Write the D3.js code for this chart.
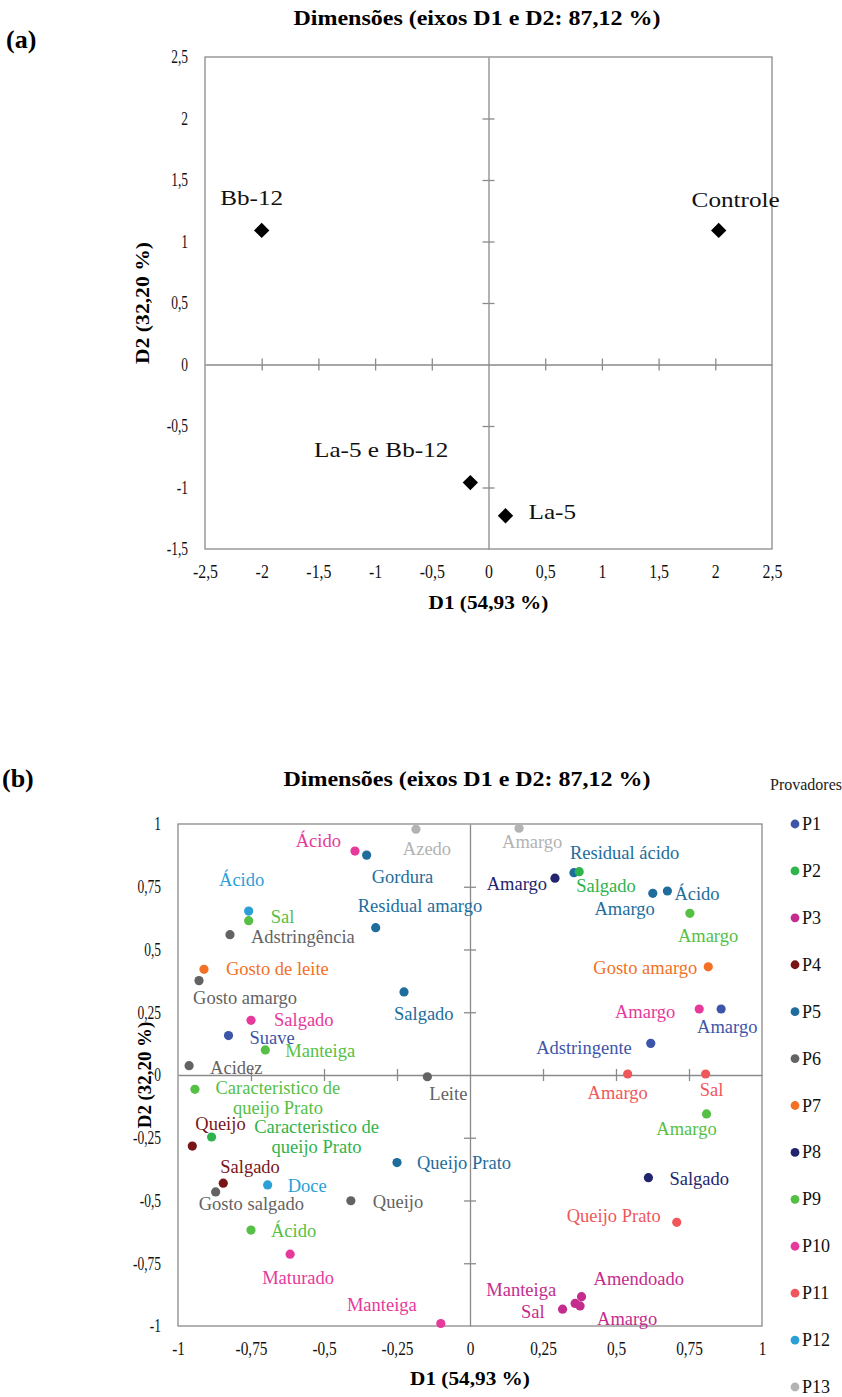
<!DOCTYPE html>
<html>
<head>
<meta charset="utf-8">
<script src="https://cdn.jsdelivr.net/npm/d3@7"></script>
<style>
  body { margin: 0; background: #fff; }
</style>
</head>
<body>
<svg id="fig" width="842" height="1397"></svg>
<script>
// ---------- Panel (a): treatment scores on D1/D2 ----------
const treatments = ["Bb-12", "Controle", "La-5 e Bb-12", "La-5"];
const treatD1 = [-2.00, 2.03, -0.16, 0.15];
const treatD2 = [1.09, 1.09, -0.96, -1.23];
const xTicksA = [-2.5, -2, -1.5, -1, -0.5, 0, 0.5, 1, 1.5, 2, 2.5];
const yTicksA = [-1.5, -1, -0.5, 0, 0.5, 1, 1.5, 2, 2.5];

// ---------- Panel (b): panelist attributes on D1/D2 ----------
const panelists = ["P1","P2","P3","P4","P5","P6","P7","P8","P9","P10","P11","P12","P13"];
const panelistColors = ["#3d55a8","#2fb34b","#c42c8e","#7a1517","#1e6d9c","#636363",
                        "#f27125","#23246e","#56bf45","#e6399b","#f0575b","#2aa0d7","#b3b3b3"];

const attrTerms = [
  "Azedo","Ácido","Gordura","Ácido","Sal","Adstringência","Residual amargo",
  "Gosto de leite","Gosto amargo","Salgado","Salgado","Suave","Manteiga","Acidez",
  "Caracteristico de|queijo  Prato","Caracteristico de|queijo  Prato","Queijo","Salgado",
  "Gosto salgado","Doce","Queijo","Queijo Prato","Leite","Ácido","Maturado","Manteiga",
  "Amargo","Residual ácido","Salgado","Amargo","Amargo","Ácido","Amargo","Gosto amargo",
  "Amargo","Amargo","Adstringente","Amargo","Sal","Amargo","Salgado","Queijo Prato",
  "Amendoado","Manteiga","Amargo","Sal"
];
const attrPanelist = [
  "P13","P10","P5","P12","P9","P6","P5",
  "P7","P6","P5","P10","P1","P9","P6",
  "P9","P2","P4","P4",
  "P6","P12","P6","P5","P6","P9","P10","P10",
  "P13","P5","P2","P8","P5","P5","P9","P7",
  "P10","P1","P1","P11","P11","P9","P8","P11",
  "P3","P3","P3","P3"
];
const attrD1 = [
  -0.185, -0.394, -0.354, -0.758, -0.758, -0.822, -0.323,
  -0.911, -0.928, -0.226, -0.750, -0.827, -0.701, -0.962,
  -0.942, -0.885, -0.951, -0.845,
  -0.871, -0.693, -0.408, -0.250, -0.146, -0.750, -0.616, -0.100,
  0.168, 0.356, 0.374, 0.291, 0.626, 0.676, 0.753, 0.816,
  0.785, 0.860, 0.619, 0.540, 0.807, 0.810, 0.611, 0.708,
  0.382, 0.360, 0.377, 0.317
];
const attrD2 = [
  0.979, 0.892, 0.876, 0.653, 0.615, 0.559, 0.587,
  0.421, 0.376, 0.331, 0.218, 0.157, 0.100, 0.037,
  -0.057, -0.247, -0.283, -0.431,
  -0.466, -0.438, -0.501, -0.349, -0.007, -0.618, -0.714, -0.990,
  0.983, 0.806, 0.810, 0.784, 0.724, 0.733, 0.644, 0.431,
  0.263, 0.263, 0.126, 0.004, 0.004, -0.155, -0.409, -0.587,
  -0.883, -0.910, -0.920, -0.933
];
const ticksB = [-1, -0.75, -0.5, -0.25, 0, 0.25, 0.5, 0.75, 1];

// ---------- label placement (pixel offsets from each marker) ----------
const labelPlaceA = [
  { anchor: "middle", dx: -10, dy: -25 },
  { anchor: "middle", dx: 17, dy: -23 },
  { anchor: "end", dx: -22, dy: -26 },
  { anchor: "start", dx: 23, dy: 3 }
];
const labelPlaceB = [
  ["middle", 11, 26], ["end", -14, -4], ["start", 5, 28], ["middle", -7, -25],
  ["start", 22, 2], ["start", 21, 8], ["start", -18, -16],
  ["start", 22, 6], ["start", -6, 23], ["start", -10, 28], ["start", 23, 6],
  ["start", 21, 8], ["start", 20, 7], ["start", 21, 8],
  ["middle", 83, 5], ["middle", 105, -4], ["start", 3, -16], ["start", -3, -10],
  ["start", -17, 18], ["start", 20, 7], ["start", 22, 7], ["start", 20, 6],
  ["start", 2, 23], ["start", 20, 7], ["middle", 8, 30], ["end", -24, -12],
  ["start", -17, 20], ["start", -4, -14], ["start", -3, 20], ["end", -8, 12],
  ["end", 2, 22], ["start", 7, 9], ["start", -12, 29], ["end", -11, 7],
  ["end", -24, 9], ["start", -24, 24], ["end", -19, 11], ["middle", -10, 25],
  ["middle", 6, 22], ["middle", -20, 21], ["start", 21, 7], ["end", -16, 0],
  ["start", 12, -12], ["end", -19, -7], ["start", 17, 19], ["end", -18, 9]
];

const SERIF = "'Liberation Serif', 'Times New Roman', 'DejaVu Serif', serif";
const svg = d3.select("#fig");
const AXIS_GREY = "#8a8a8a";
const decimalComma = v => String(v).replace(".", ",");

// stretch text horizontally around its anchor point
function stretch(sel, k) {
  sel.each(function () {
    const x = +this.getAttribute("x") || 0;
    const y = +this.getAttribute("y") || 0;
    d3.select(this).attr("transform",
      `translate(${x},${y}) scale(${k},1) translate(${-x},${-y})`);
  });
}

// Draws box, centred axes with cross ticks and outer tick labels
function drawFrame(g, x, y, xTicks, yTicks, opts) {
  const [x0, x1] = x.range();
  const [yb, yt] = y.range();
  g.append("rect")
    .attr("x", x0).attr("y", yt).attr("width", x1 - x0).attr("height", yb - yt)
    .attr("fill", "none").attr("stroke", AXIS_GREY).attr("stroke-width", 1.3);

  const innerX = xTicks.filter(v => v !== 0 && v !== xTicks[0] && v !== xTicks[xTicks.length - 1]);
  const innerY = yTicks.filter(v => v !== 0 && v !== yTicks[0] && v !== yTicks[yTicks.length - 1]);

  // horizontal centre line (D2 = 0) with crossing ticks
  const hz = g.append("g").attr("transform", `translate(0,${y(0)})`);
  hz.append("g").call(d3.axisBottom(x).tickValues(innerX).tickSize(6).tickSizeOuter(0).tickFormat(""));
  hz.append("g").call(d3.axisTop(x).tickValues(innerX).tickSize(6).tickSizeOuter(0).tickFormat(""))
    .select(".domain").remove();
  // vertical centre line (D1 = 0) with crossing ticks
  const vt = g.append("g").attr("transform", `translate(${x(0)},0)`);
  vt.append("g").call(d3.axisLeft(y).tickValues(innerY).tickSize(6).tickSizeOuter(0).tickFormat(""));
  vt.append("g").call(d3.axisRight(y).tickValues(innerY).tickSize(6).tickSizeOuter(0).tickFormat(""))
    .select(".domain").remove();
  g.selectAll(".domain, .tick line").attr("stroke", AXIS_GREY).attr("stroke-width", 1.3);

  // outer tick labels
  const bx = g.append("g").attr("transform", `translate(0,${yb})`)
    .call(d3.axisBottom(x).tickValues(xTicks).tickSize(0).tickPadding(opts.xPad).tickFormat(decimalComma));
  const ly = g.append("g").attr("transform", `translate(${x0},0)`)
    .call(d3.axisLeft(y).tickValues(yTicks).tickSize(0).tickPadding(opts.yPad).tickFormat(decimalComma));
  [bx, ly].forEach(a => {
    a.select(".domain").remove();
    a.selectAll("text").attr("font-size", opts.tickFont).attr("fill", "#111");
  });
  stretch(bx.selectAll("text"), opts.xTickStretch);
  stretch(ly.selectAll("text"), opts.yTickStretch);
}

function axisTitles(g, x, y, opts) {
  const [x0, x1] = x.range();
  const [yb, yt] = y.range();
  const t = g.append("text").text("Dimensões (eixos D1 e D2: 87,12 %)")
    .attr("x", opts.titleX).attr("y", opts.titleY)
    .attr("text-anchor", "middle").attr("font-weight", "bold").attr("font-size", 20);
  stretch(t, 1.2);
  const xl = g.append("text").text("D1 (54,93 %)")
    .attr("x", (x0 + x1) / 2).attr("y", opts.xTitleY)
    .attr("text-anchor", "middle").attr("font-weight", "bold").attr("font-size", 19);
  stretch(xl, 1.12);
  g.append("text").text("D2 (32,20 %)")
    .attr("transform", `translate(${opts.yTitleX},${opts.yTitleY}) rotate(-90) scale(${opts.yTitleK},1)`)
    .attr("text-anchor", "middle").attr("font-weight", "bold").attr("font-size", opts.yTitleFont);
  g.append("text").text(opts.tag)
    .attr("x", opts.tagX).attr("y", opts.tagY)
    .attr("font-weight", "bold").attr("font-size", 26);
}

// ================= Panel (a) =================
const gA = svg.append("g");
const xA = d3.scaleLinear().domain([-2.5, 2.5]).range([205, 772]);
const yA = d3.scaleLinear().domain([-1.5, 2.5]).range([549, 57]);
drawFrame(gA, xA, yA, xTicksA, yTicksA,
  { xPad: 16, yPad: 17, tickFont: 18, xTickStretch: 0.88, yTickStretch: 0.75 });
axisTitles(gA, xA, yA, { titleX: 477, titleY: 25, xTitleY: 609, yTitleX: 149, yTitleY: 303,
  yTitleK: 1.14, yTitleFont: 19, tag: "(a)", tagX: 6, tagY: 48 });

const diamond = d3.symbol().type(d3.symbolDiamond2).size(150);
const treatData = treatments.map((t, i) => ({ name: t, d1: treatD1[i], d2: treatD2[i], place: labelPlaceA[i] }));
gA.selectAll("path.treat").data(treatData).join("path").attr("class", "treat")
  .attr("d", diamond)
  .attr("transform", d => `translate(${xA(d.d1)},${yA(d.d2)})`)
  .attr("fill", "#000");
gA.selectAll("text.treat").data(treatData).join("text").attr("class", "treat")
  .attr("x", d => xA(d.d1) + d.place.dx).attr("y", d => yA(d.d2) + d.place.dy)
  .attr("text-anchor", d => d.place.anchor)
  .attr("font-size", 21).attr("fill", "#111")
  .text(d => d.name)
  .call(stretch, 1.2);

// ================= Panel (b) =================
const gB = svg.append("g");
const xB = d3.scaleLinear().domain([-1, 1]).range([178, 762]);
const yB = d3.scaleLinear().domain([-1, 1]).range([1326, 824]);
drawFrame(gB, xB, yB, ticksB, ticksB,
  { xPad: 16, yPad: 17, tickFont: 18, xTickStretch: 0.85, yTickStretch: 0.75 });
axisTitles(gB, xB, yB, { titleX: 467, titleY: 786, xTitleY: 1385, yTitleX: 151, yTitleY: 1075,
  yTitleK: 1.05, yTitleFont: 18, tag: "(b)", tagX: 2, tagY: 787 });

const colorOf = d3.scaleOrdinal().domain(panelists).range(panelistColors);
const attrData = attrTerms.map((t, i) => ({
  term: t, p: attrPanelist[i], d1: attrD1[i], d2: attrD2[i],
  anchor: labelPlaceB[i][0], dx: labelPlaceB[i][1], dy: labelPlaceB[i][2]
}));

gB.selectAll("circle.attr").data(attrData).join("circle").attr("class", "attr")
  .attr("cx", d => xB(d.d1)).attr("cy", d => yB(d.d2)).attr("r", 4.6)
  .attr("fill", d => colorOf(d.p));

const labels = gB.selectAll("text.attr").data(attrData).join("text").attr("class", "attr")
  .attr("x", d => xB(d.d1) + d.dx).attr("y", d => yB(d.d2) + d.dy)
  .attr("text-anchor", d => d.anchor)
  .attr("font-size", 18.5)
  .attr("fill", d => colorOf(d.p));
labels.each(function (d) {
  const lines = d.term.split("|");
  const el = d3.select(this);
  lines.forEach((ln, k) => {
    el.append("tspan").attr("x", xB(d.d1) + d.dx).attr("dy", k === 0 ? 0 : 20).text(ln);
  });
});

// legend
const leg = svg.append("g");
leg.append("text").text("Provadores").attr("x", 770).attr("y", 790)
  .attr("font-size", 16).attr("fill", "#222");
const legY = d3.scalePoint().domain(panelists).range([824, 1387]);
leg.selectAll("circle").data(panelists).join("circle")
  .attr("cx", 795).attr("cy", p => legY(p)).attr("r", 4.4).attr("fill", p => colorOf(p));
leg.selectAll("text.item").data(panelists).join("text").attr("class", "item")
  .attr("x", 802).attr("y", p => legY(p) + 6).attr("font-size", 18).attr("fill", "#111")
  .text(p => p);

// serif face for every text element
svg.selectAll("text").attr("font-family", SERIF);
</script>
</body>
</html>
